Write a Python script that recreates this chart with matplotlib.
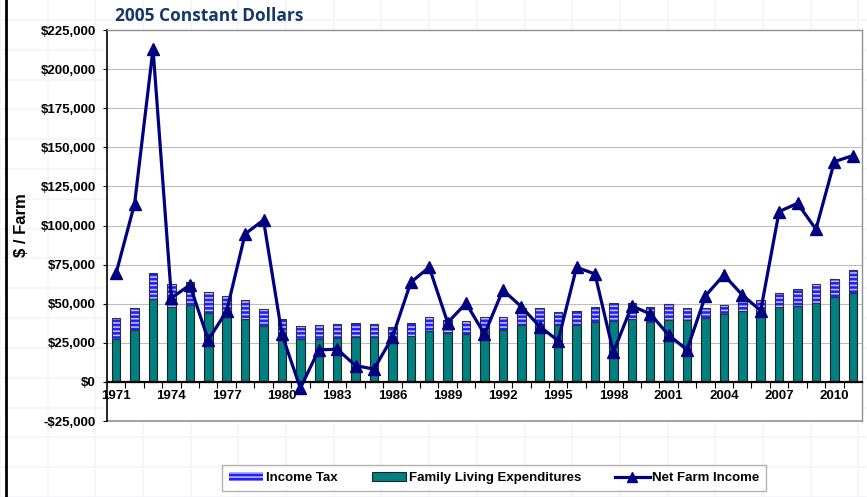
import matplotlib
matplotlib.use("Agg")
import matplotlib.pyplot as plt
from matplotlib.lines import Line2D
from matplotlib.patches import Patch
from matplotlib.ticker import FuncFormatter, FixedLocator
import numpy as np

years = list(range(1971, 2012))
family_living = [27.5, 33.0, 53.1, 47.9, 49.2, 44.1, 42.2, 40.1, 35.6, 27.7,
                 27.3, 27.5, 28.1, 29.0, 28.8, 27.5, 29.4, 32.6, 31.1, 30.7,
                 32.5, 33.5, 36.4, 36.0, 36.4, 36.4, 38.6, 39.0, 40.3, 38.1,
                 39.6, 39.4, 41.1, 43.3, 45.6, 44.0, 47.9, 48.6, 50.3, 54.3,
                 56.9]
total_height = [41.1, 47.1, 69.5, 62.6, 63.7, 57.7, 55.0, 52.2, 46.5, 40.3,
                36.0, 36.2, 36.9, 37.7, 37.1, 35.4, 37.5, 41.6, 39.6, 39.0,
                41.5, 41.8, 47.1, 47.1, 44.5, 45.2, 47.9, 50.3, 50.3, 47.7,
                49.6, 47.1, 47.1, 49.4, 52.8, 52.5, 57.1, 59.2, 62.6, 66.1,
                71.4]
income_tax = [round(t - f, 1) for t, f in zip(total_height, family_living)]
net_farm_income = [69.7, 114.0, 213.0, 53.7, 62.0, 26.8, 45.4, 94.6, 103.5, 30.5,
                   -4.0, 20.5, 20.9, 10.4, 8.2, 28.6, 63.7, 73.3, 37.9, 50.3,
                   30.5, 58.8, 48.1, 35.4, 26.4, 73.3, 69.0, 19.0, 48.6, 43.5,
                   30.0, 20.5, 55.0, 68.4, 55.6, 45.6, 108.9, 114.2, 97.6, 140.8,
                   144.7]
family_living = [v * 1000 for v in family_living]
income_tax = [v * 1000 for v in income_tax]
net_farm_income = [v * 1000 for v in net_farm_income]

plt.rcParams['font.family'] = ['Liberation Sans', 'DejaVu Sans']
plt.rcParams['hatch.linewidth'] = 1.1

fig = plt.figure(figsize=(8.67, 4.97), dpi=100)
fig.patch.set_facecolor('white')

# faint slide background grid
for gx in np.arange(0.0, 1.0, 0.055):
    fig.add_artist(Line2D([gx, gx], [0, 1], color='#f3f3fa', lw=1.2, zorder=0))
for gy in np.arange(0.0, 1.0, 0.06):
    fig.add_artist(Line2D([0, 1], [gy, gy], color='#f3f3fa', lw=1.2, zorder=0))
fig.add_artist(Line2D([0.007, 0.007], [0, 1], color='black', lw=2))

ax = fig.add_axes([0.1234, 0.1529, 0.8708, 0.7867])
ax.set_facecolor('white')
x = np.arange(len(years))
w = 0.46

ax.bar(x, family_living, width=w, color='#008080', edgecolor='#222222', linewidth=0.8, zorder=3)
ax.bar(x, income_tax, width=w, bottom=family_living, color='#2020ff', edgecolor='#c4c4ff',
       hatch='----', linewidth=0, zorder=3)
ax.bar(x, income_tax, width=w, bottom=family_living, fill=False, edgecolor='#333333',
       linewidth=0.8, zorder=3)
ax.plot(x, net_farm_income, color='#000080', lw=2.3, marker='^', markersize=8, zorder=5)

ax.set_xlim(-0.5, len(years) - 0.5)
ax.set_ylim(-25000, 225000)
ax.set_yticks(np.arange(-25000, 225001, 25000))
ax.yaxis.set_major_formatter(FuncFormatter(lambda v, p: ('-$' if v < 0 else '$') + f"{abs(int(v)):,}"))
for yv in range(25000, 225000, 25000):
    ax.axhline(yv, color='#bdbdbd', lw=0.8, zorder=1)

ax.spines['bottom'].set_position(('data', 0))
ax.spines['bottom'].set_color('black')
ax.spines['bottom'].set_linewidth(1.6)
ax.spines['bottom'].set_zorder(4)
ax.spines['left'].set_color('black')
ax.spines['left'].set_linewidth(1.2)
for s in ['top', 'right']:
    ax.spines[s].set_color('#909090')
    ax.spines[s].set_linewidth(1.0)
ax.plot([-0.5, len(years) - 0.5], [-25000, -25000], color='#909090', lw=1.2, clip_on=False)

label_idx = list(range(0, len(years), 3))
ax.xaxis.set_major_locator(FixedLocator(label_idx))
ax.set_xticklabels([str(years[i]) for i in label_idx], fontweight='bold', fontsize=9.5)
ax.xaxis.set_minor_locator(FixedLocator(np.arange(0.5, len(years) - 0.5, 1)))
ax.tick_params(axis='x', which='major', length=0, pad=6)
ax.tick_params(axis='x', which='minor', length=4, width=0.8, direction='out')
ax.tick_params(axis='y', length=3, width=0.8, pad=5)
for lbl in ax.get_yticklabels():
    lbl.set_fontweight('bold')
    lbl.set_fontsize(9.5)

ax.set_ylabel('$ / Farm', fontweight='bold', fontsize=12, labelpad=8)

fig.text(0.133, 0.968, '2005 Constant Dollars', color='#17376b', fontweight='bold',
         fontsize=12.5, family=['Open Sans', 'DejaVu Sans'], va='center', ha='left')

handles = [
    Patch(facecolor='#2020ff', edgecolor='#c4c4ff', hatch='----', linewidth=0, label='Income Tax'),
    Patch(facecolor='#008080', edgecolor='#222222', linewidth=0.8, label='Family Living Expenditures'),
    Line2D([0], [0], color='#000080', lw=2.3, marker='^', markersize=7, label='Net Farm Income'),
]
leg = fig.legend(handles=handles, loc='center', bbox_to_anchor=(0.57, 0.038), ncol=3,
                 frameon=True, fancybox=False, edgecolor='#a0a0a0',
                 prop={'weight': 'bold', 'size': 9.5}, handlelength=2.6, handletextpad=0.2,
                 columnspacing=2.6, borderpad=0.5)
leg.get_frame().set_linewidth(1.0)

fig.savefig('out.png', dpi=100, facecolor='white')
